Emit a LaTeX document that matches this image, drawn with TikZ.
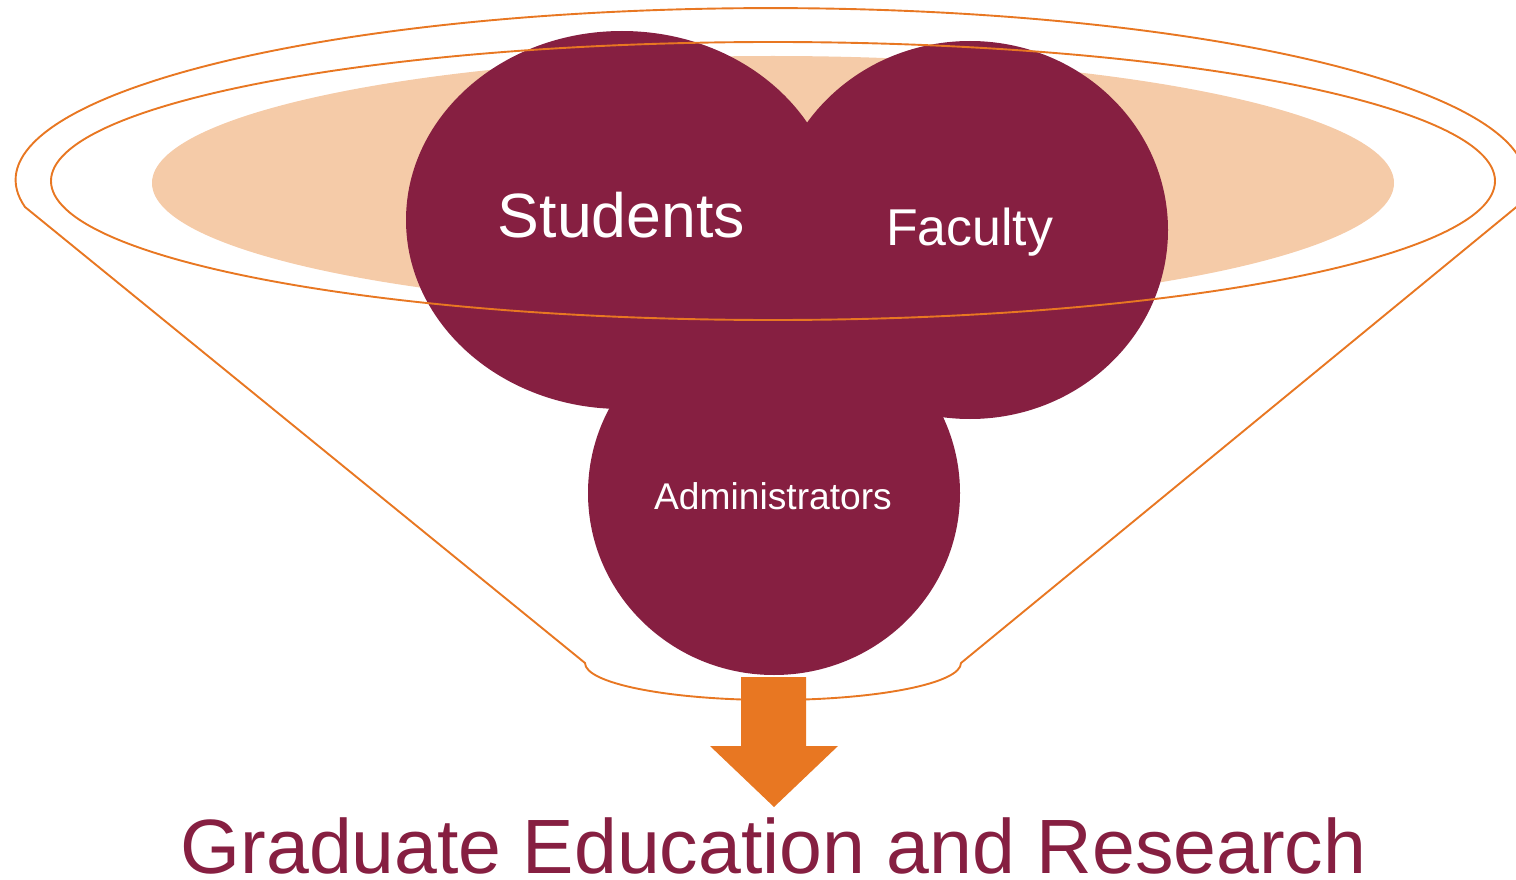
\documentclass[tikz,border=0pt]{standalone}
\usepackage{fontspec}
\setmainfont{Liberation Sans}
\definecolor{vtmaroon}{HTML}{861F41}
\definecolor{vtorange}{HTML}{E87722}
\definecolor{vtpeach}{HTML}{F5CBA8}
\tikzset{
  blob/.style={fill=vtmaroon, draw=none},
  rim/.style={draw=vtorange, line width=1.9pt, line join=round},
  lbl/.style={text=white, anchor=base, inner sep=0pt},
}
\begin{document}
\begin{tikzpicture}[x=1pt,y=-1pt]
\useasboundingbox (0,0) rectangle (1516,880);
\clip (0,0) rectangle (1516,880);
% peach inner surface
\fill[vtpeach] (773,183) ellipse[x radius=621, y radius=127];
% circles
\fill[blob] (774,493) ellipse[x radius=186, y radius=182];
\fill[blob] (622,220) ellipse[x radius=216, y radius=189];
\fill[blob] (970,230) ellipse[x radius=198, y radius=189];
% funnel outline
\coordinate (tl) at (25,207);
\coordinate (tr) at (1519,207);
\coordinate (bl) at (585,663);
\coordinate (br) at (961,663);
\draw[rim] (tl) arc[start angle=171, end angle=369, x radius=755, y radius=172]
  -- (br) arc[start angle=0, end angle=180, x radius=188, y radius=37]
  -- cycle;
\draw[rim] (773,181) ellipse[x radius=722, y radius=139];
% arrow
\fill[vtorange] (741,677) -- (806,677) -- (806,746) -- (838,746) -- (774,807)
  -- (710,746) -- (741,746) -- cycle;
% labels
\node[lbl, font=\fontsize{62.6}{70}\selectfont] (stu) at (621.5,237) {Students};
\node[lbl, font=\fontsize{51.8}{60}\selectfont] (fac) at (969.5,245) {Faculty};
\node[lbl, font=\fontsize{37.2}{44}\selectfont] (adm) at (773,509) {Administrators};
\node[anchor=base, inner sep=0pt, text=vtmaroon, font=\fontsize{77}{86}\selectfont] (title) at (773.5,873) {Graduate Education and Research};
\end{tikzpicture}
\end{document}
